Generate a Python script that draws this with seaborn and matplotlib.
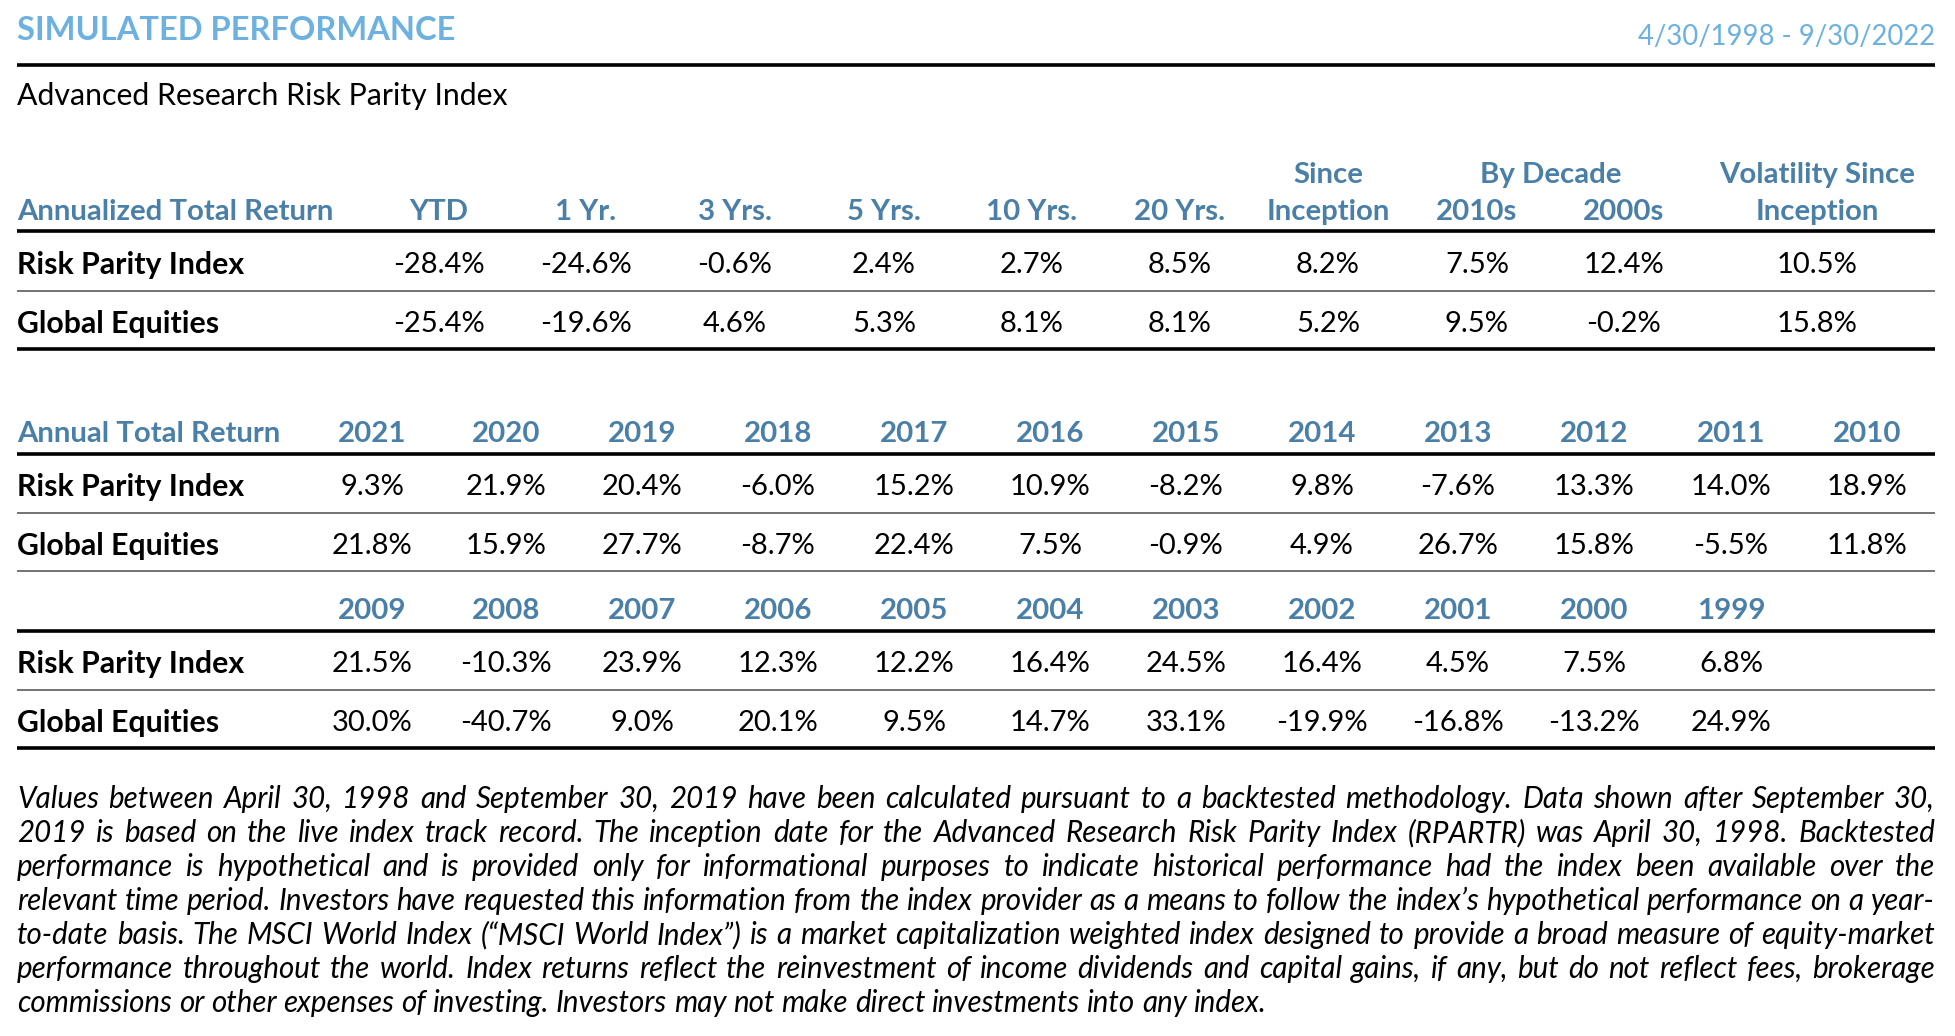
import seaborn as sns
import matplotlib.pyplot as plt
import pandas as pd

# ---- data ----
title = 'SIMULATED PERFORMANCE'
date_range = '4/30/1998 - 9/30/2022'
subtitle = 'Advanced Research Risk Parity Index'
series = ['Risk Parity Index', 'Global Equities']

ann_cols = ['YTD', '1 Yr.', '3 Yrs.', '5 Yrs.', '10 Yrs.', '20 Yrs.', 'Inception', '2010s', '2000s', 'Inception']
ann_top = ['', '', '', '', '', '', 'Since', '', '', 'Volatility Since']
ann_rpi = ['-28.4%', '-24.6%', '-0.6%', '2.4%', '2.7%', '8.5%', '8.2%', '7.5%', '12.4%', '10.5%']
ann_ge = ['-25.4%', '-19.6%', '4.6%', '5.3%', '8.1%', '8.1%', '5.2%', '9.5%', '-0.2%', '15.8%']

years_a = ['2021', '2020', '2019', '2018', '2017', '2016', '2015', '2014', '2013', '2012', '2011', '2010']
rpi_a = ['9.3%', '21.9%', '20.4%', '-6.0%', '15.2%', '10.9%', '-8.2%', '9.8%', '-7.6%', '13.3%', '14.0%', '18.9%']
ge_a = ['21.8%', '15.9%', '27.7%', '-8.7%', '22.4%', '7.5%', '-0.9%', '4.9%', '26.7%', '15.8%', '-5.5%', '11.8%']

years_b = ['2009', '2008', '2007', '2006', '2005', '2004', '2003', '2002', '2001', '2000', '1999']
rpi_b = ['21.5%', '-10.3%', '23.9%', '12.3%', '12.2%', '16.4%', '24.5%', '16.4%', '4.5%', '7.5%', '6.8%']
ge_b = ['30.0%', '-40.7%', '9.0%', '20.1%', '9.5%', '14.7%', '33.1%', '-19.9%', '-16.8%', '-13.2%', '24.9%']

footnote = [
    'Values between April 30, 1998 and September 30, 2019 have been calculated pursuant to a backtested methodology. Data shown after September 30,',
    '2019 is based on the live index track record. The inception date for the Advanced Research Risk Parity Index (RPARTR) was April 30, 1998. Backtested',
    'performance is hypothetical and is provided only for informational purposes to indicate historical performance had the index been available over the',
    'relevant time period. Investors have requested this information from the index provider as a means to follow the index\u2019s hypothetical performance on a year-',
    'to-date basis. The MSCI World Index (\u201cMSCI World Index\u201d) is a market capitalization weighted index designed to provide a broad measure of equity-market',
    'performance throughout the world. Index returns reflect the reinvestment of income dividends and capital gains, if any, but do not reflect fees, brokerage',
    'commissions or other expenses of investing. Investors may not make direct investments into any index.',
]

# ---- styling ----
sns.set_theme(style='white')
plt.rcParams['font.family'] = ['Lato', 'DejaVu Sans']

LIGHT = '#6cb1e0'
STEEL = '#4a7fa7'
LEFT, RIGHT = 17, 1935
DY = 2  # small nudge so text sits like the reference

fig = plt.figure(figsize=(19.56, 10.36), dpi=100)
ax = fig.add_axes([0, 0, 1, 1])
ax.set_xlim(0, 1956)
ax.set_ylim(1036, 0)
ax.axis('off')


def rule(y, thick=True):
    ax.hlines(y, LEFT, RIGHT, color='black' if thick else '#4d4d4d',
              lw=2.6 if thick else 1.1)


# header block
ax.text(LEFT, 31, title, color=LIGHT, fontsize=23.5, fontweight='bold', va='center')
ax.text(RIGHT, 37, date_range, color=LIGHT, fontsize=19.8, va='center', ha='right')
rule(65)
ax.text(LEFT, 96, subtitle, color='black', fontsize=21.8, va='center')

# annualized table
ann = pd.DataFrame([ann_rpi, ann_ge], index=series, columns=range(len(ann_cols)))
ann_x = [439, 586, 735, 884, 1032, 1180, 1328, 1477, 1624, 1817]
hdr = dict(color=STEEL, fontsize=21.2, fontweight='bold', va='center', ha='center')
lab = dict(fontsize=21.8, fontweight='bold', va='center', color='black')
val = dict(fontsize=21, va='center', ha='center', color='black')

ax.text(LEFT, 210 + DY, 'Annualized Total Return', **{**hdr, 'ha': 'left'})
for x, c, top in zip(ann_x, ann_cols, ann_top):
    ax.text(x, 210 + DY, c, **hdr)
    if top:
        ax.text(x, 173 + DY, top, **hdr)
ax.text((ann_x[7] + ann_x[8]) / 2, 173 + DY, 'By Decade', **hdr)
rule(231)
for (name, row), y in zip(ann.iterrows(), [263, 322]):
    ax.text(LEFT, y + DY, name, **lab)
    for x, v in zip(ann_x, row):
        ax.text(x, y + DY, v, **val)
rule(291, thick=False)
rule(349)

# annual table
yr_x = [372, 506, 642, 778, 914, 1050, 1186, 1322, 1458, 1594, 1731, 1867]


def annual_block(years, rpi, ge, y_head, first):
    df = pd.DataFrame([rpi, ge], index=series, columns=years)
    if first:
        ax.text(LEFT, y_head + DY, 'Annual Total Return', **{**hdr, 'ha': 'left'})
    for x, yr in zip(yr_x, df.columns):
        ax.text(x, y_head + DY, yr, **hdr)
    rule(y_head + 22)
    for (name, row), y in zip(df.iterrows(), [y_head + 53, y_head + 112]):
        ax.text(LEFT, y + DY, name, **lab)
        for x, v in zip(yr_x, row):
            ax.text(x, y + DY, v, **val)
    rule(y_head + 81, thick=False)


annual_block(years_a, rpi_a, ge_a, 432, True)
rule(571, thick=False)
annual_block(years_b, rpi_b, ge_b, 609, False)
rule(748)

# justified italic footnote
renderer = fig.canvas.get_renderer()
probe = [ax.text(0, 0, line, fontsize=20, style='italic') for line in footnote]
widest = max(p.get_window_extent(renderer).width for p in probe)
for p in probe:
    p.remove()
fn_size = 20 * (RIGHT - LEFT) / widest * 0.995

for i, line in enumerate(footnote):
    y = 799 + i * 34
    words = line.split(' ')
    arts = [ax.text(0, y, w, fontsize=fn_size, style='italic', va='center', color='black')
            for w in words]
    widths = [a.get_window_extent(renderer).width for a in arts]
    if i < len(footnote) - 1:
        gap = (RIGHT - LEFT - sum(widths)) / (len(words) - 1)
    else:
        sp = ax.text(0, 0, 'a a', fontsize=fn_size, style='italic')
        aa = ax.text(0, 0, 'aa', fontsize=fn_size, style='italic')
        gap = sp.get_window_extent(renderer).width - aa.get_window_extent(renderer).width
        sp.remove()
        aa.remove()
    x = LEFT
    for a, w in zip(arts, widths):
        a.set_x(x)
        x += w + gap

fig.savefig('out.png', dpi=100, facecolor='white')
